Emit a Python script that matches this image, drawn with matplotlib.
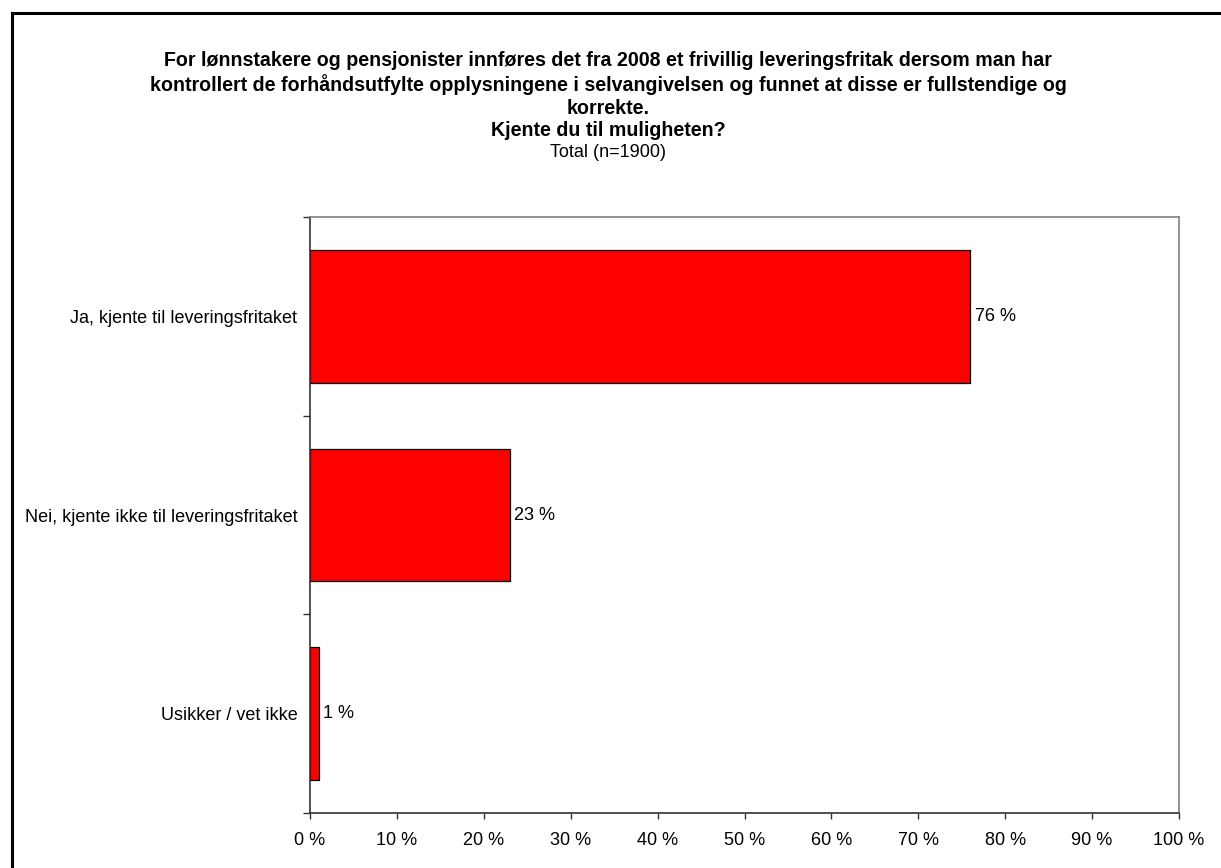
import numpy as np
import matplotlib.pyplot as plt
from matplotlib.lines import Line2D

plt.rcParams['font.family'] = ['Liberation Sans', 'DejaVu Sans']

categories = ['Ja, kjente til leveringsfritaket',
              'Nei, kjente ikke til leveringsfritaket',
              'Usikker / vet ikke']
values = [76, 23, 1]
xticks = list(range(0, 101, 10))
xtick_labels = [f'{t} %' for t in xticks]

title_bold = ('For lønnstakere og pensjonister innføres det fra 2008 et frivillig leveringsfritak dersom man har\n'
              'kontrollert de forhåndsutfylte opplysningene i selvangivelsen og funnet at disse er fullstendige og\n'
              'korrekte.\n'
              'Kjente du til muligheten?')
subtitle = 'Total (n=1900)'

fig = plt.figure(figsize=(12.21, 8.68), dpi=100)
ax = fig.add_axes([310 / 1221, 1 - 813 / 868, (1179 - 310) / 1221, (813 - 217) / 868])

pos = np.arange(len(categories))
ax.barh(pos, values, height=0.667, color='#ff0000', edgecolor='black', linewidth=0.9)
for p, v in zip(pos, values):
    ax.text(v + 0.5, p, f'{v} %', va='center', ha='left', fontsize=13)

ax.set_xlim(0, 100)
ax.set_ylim(len(categories) - 0.5, -0.5)
ax.set_xticks(xticks)
ax.set_xticklabels(xtick_labels, fontsize=13)
ax.set_yticks(np.arange(-0.5, len(categories), 1.0))
ax.set_yticklabels([])
ax.set_yticks(pos, minor=True)
ax.set_yticklabels(categories, minor=True, fontsize=13)
ax.tick_params(axis='y', which='minor', length=0, pad=9)
ax.tick_params(axis='y', which='major', length=5, width=1, direction='out', color='#333333')
ax.tick_params(axis='x', length=4, width=1, direction='out', pad=10, color='#333333')

ax.spines['left'].set_color('#333333')
ax.spines['bottom'].set_color('#333333')
ax.spines['left'].set_linewidth(1.2)
ax.spines['bottom'].set_linewidth(1.2)
ax.spines['top'].set_color('#808080')
ax.spines['right'].set_color('#808080')
ax.spines['top'].set_linewidth(1.2)
ax.spines['right'].set_linewidth(1.2)

fig.text(608 / 1221, 1 - 51 / 868, title_bold, ha='center', va='top',
         fontsize=14.1, fontweight='bold', linespacing=1.24)
fig.text(608 / 1221, 1 - 144 / 868, subtitle, ha='center', va='top', fontsize=13)

# outer chart border (left and top edges visible)
x0, y0 = 12 / 1221, 1 - 13 / 868
fig.add_artist(Line2D([x0, x0], [0, y0], color='black', linewidth=2.2, transform=fig.transFigure))
fig.add_artist(Line2D([x0, 1], [y0, y0], color='black', linewidth=2.2, transform=fig.transFigure))

fig.savefig('out.png', dpi=100)
